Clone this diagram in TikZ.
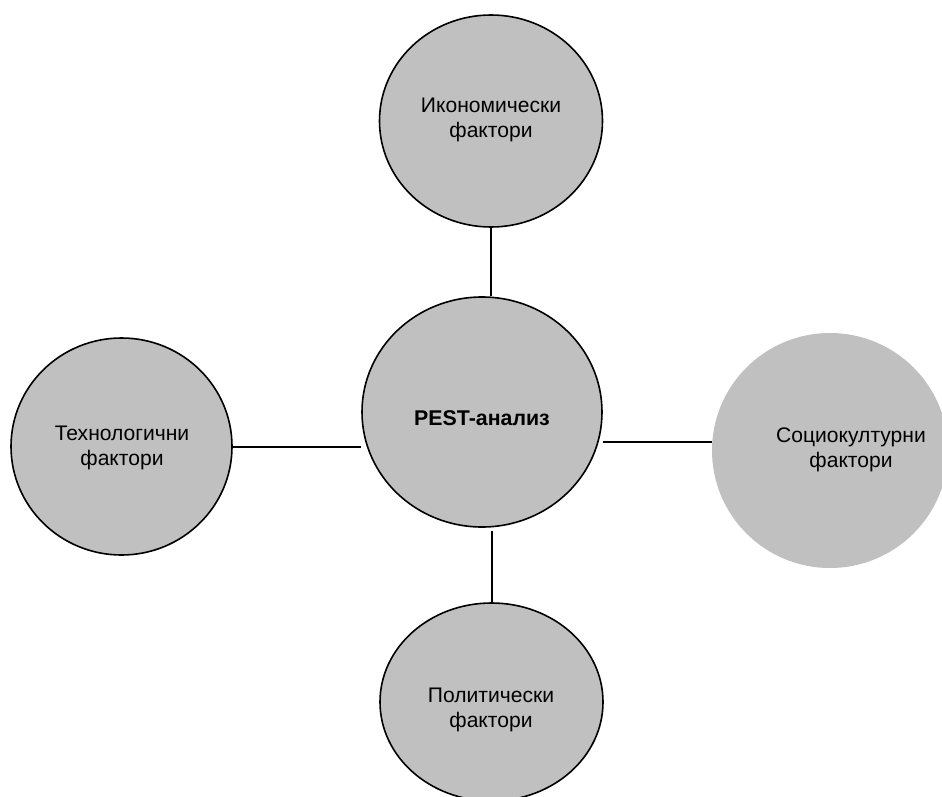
\documentclass[tikz,border=0pt]{standalone}
\usepackage{fontspec}
\setmainfont{Liberation Sans}
\usetikzlibrary{shapes.geometric}
\definecolor{circfill}{RGB}{192,192,192}
\tikzset{
  bubble/.style={ellipse, fill=circfill, draw=black, line width=1.2pt, inner sep=0pt},
  bubblenoline/.style={ellipse, fill=circfill, draw=none, inner sep=0pt},
  lbl/.style={align=center, font=\fontsize{15.8}{18.6}\selectfont, inner sep=0pt},
  conn/.style={draw=black, line width=1.5pt}
}
\begin{document}
\begin{tikzpicture}[x=0.75pt, y=-0.75pt]
\useasboundingbox (0,0) rectangle (942,796);
\clip (0,0) rectangle (942,796);
% circles
\node[bubble, minimum width=167.25pt, minimum height=159pt] (top) at (491,121) {};
\node[bubble, minimum width=180pt, minimum height=172.5pt] (c) at (482,412) {};
\node[bubble, minimum width=165.75pt, minimum height=162.75pt] (l) at (121.5,446.5) {};
\node[bubblenoline, minimum width=177pt, minimum height=176.25pt] (r) at (830,450.5) {};
\node[bubble, minimum width=167.25pt, minimum height=148.5pt] (b) at (491.5,702) {};
% connectors
\draw[conn] (top.south) -- (top.south |- c.north);
\draw[conn] (l.east) -- (l.east -| c.west);
\draw[conn] (c.east |- 0,442) -- (r.west |- 0,442);
\draw[conn] (b.north |- 0,531) -- (b.north);
% labels
\node[lbl] (ttop) at (491,120) {Икономически\\фактори};
\node[lbl, font=\fontsize{16}{18.6}\selectfont\bfseries] (tc) at (482,418) {PEST-анализ};
\node[lbl] (tl) at (122,448) {Технологични\\фактори};
\node[lbl] (tr) at (851,449.5) {Социокултурни\\фактори};
\node[lbl] (tb) at (491,710) {Политически\\фактори};
\end{tikzpicture}
\end{document}
